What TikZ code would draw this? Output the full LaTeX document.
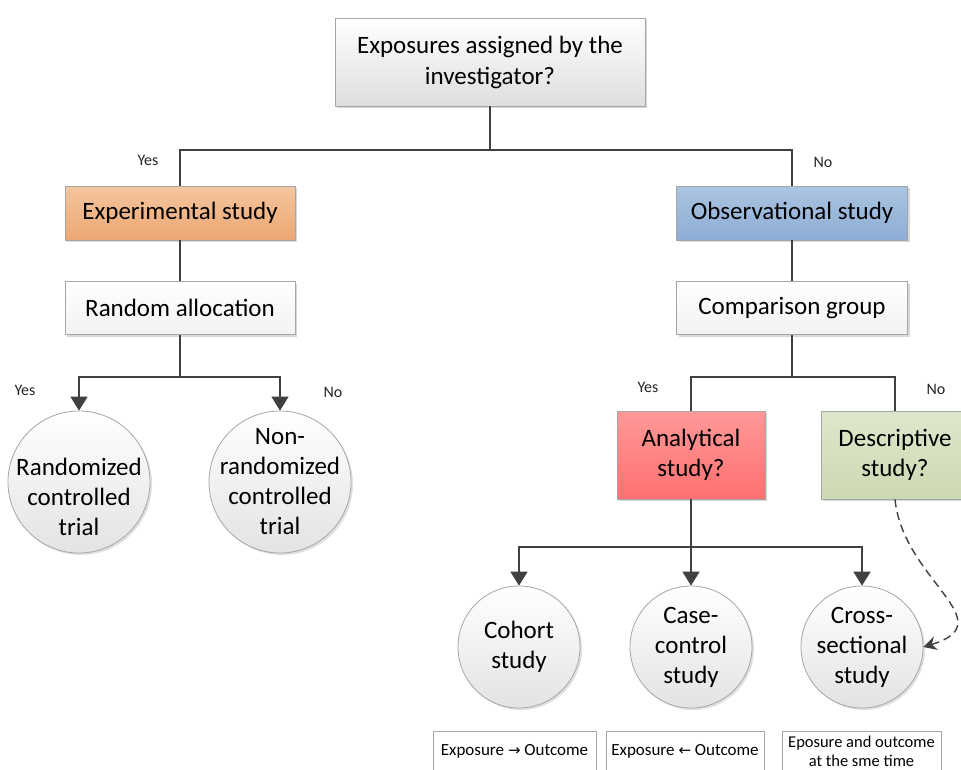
\documentclass[tikz,border=0pt]{standalone}
\usepackage{fontspec}
\setmainfont{Carlito}
\newfontfamily\symfont{DejaVu Sans}
\usetikzlibrary{arrows.meta,shadows}
\definecolor{linec}{HTML}{404040}
\definecolor{borderc}{HTML}{A6A6A6}
\tikzset{
  boxbase/.style={draw=borderc, line width=0.8pt, align=center, inner sep=2pt,
    drop shadow={shadow xshift=2pt, shadow yshift=-2pt, opacity=0.25, fill=black!60}},
  graybox/.style={boxbase, top color=white, bottom color=black!13},
  whitebox/.style={boxbase, top color=white, bottom color=black!5},
  expbox/.style={boxbase, top color={rgb,255:red,245;green,198;blue,158}, bottom color={rgb,255:red,236;green,166;blue,114}},
  obsbox/.style={boxbase, top color={rgb,255:red,170;green,196;blue,224}, bottom color={rgb,255:red,142;green,173;blue,214}},
  anabox/.style={boxbase, top color={rgb,255:red,255;green,152;blue,152}, bottom color={rgb,255:red,255;green,112;blue,112}},
  descbox/.style={boxbase, top color={rgb,255:red,222;green,231;blue,204}, bottom color={rgb,255:red,204;green,217;blue,178}},
  circ/.style={circle, draw=borderc, line width=0.8pt, align=center, inner sep=0pt,
    top color=white, bottom color=black!11, font=\fontsize{25}{30}\selectfont,
    drop shadow={shadow xshift=2pt, shadow yshift=-2pt, opacity=0.2, fill=black!60}},
  bigcirc/.style={circ, inner sep=-15pt, minimum size=142pt},
  smallcirc/.style={circ, inner sep=-6pt, minimum size=122pt},
  smallbox/.style={draw=borderc, line width=0.8pt, fill=white, align=center, inner sep=2pt},
  conn/.style={draw=linec, line width=1.6pt},
  arr/.style={conn, -{Triangle[width=17pt,length=14pt]}},
  dashconn/.style={draw=linec, line width=1.4pt, dash pattern=on 8pt off 5pt,
    -{Stealth[width=14pt,length=13pt]}},
  lab/.style={font=\fontsize{16}{18}\selectfont, text=black!85},
  boxfont/.style={font=\fontsize{25}{31}\selectfont}
}
\begin{document}
\begin{tikzpicture}[x=1pt,y=-1pt]
\useasboundingbox (0,0) rectangle (961,769);
\clip (0,0) rectangle (961,769);
\fill[white] (0,0) rectangle (961,769);

% nodes
\node[graybox, boxfont, minimum width=310pt, minimum height=88pt] (top) at (490,62) {Exposures assigned by the\\investigator?};
\node[expbox, boxfont, minimum width=230pt, minimum height=54pt] (exp) at (180,213) {Experimental study};
\node[whitebox, boxfont, minimum width=230pt, minimum height=53pt] (rand) at (180,308) {Random allocation};
\node[obsbox, boxfont, minimum width=231pt, minimum height=54pt] (obs) at (792,213) {Observational study};
\node[whitebox, boxfont, minimum width=231pt, minimum height=53pt] (comp) at (792,308) {Comparison group};

\node[bigcirc] (rct) at (79,482) {\rule{0pt}{18pt}\\Randomized\\controlled\\trial};
\node[bigcirc] (nrct) at (280,482) {Non-\\randomized\\controlled\\trial};

\node[anabox, minimum width=148pt, minimum height=88pt, font=\fontsize{25}{30}\selectfont] (ana) at (691,455) {Analytical\\study?};
\node[descbox, minimum width=148pt, minimum height=88pt, font=\fontsize{25}{30}\selectfont] (desc) at (895,455) {Descriptive\\study?};

\node[smallcirc] (coh) at (519,647) {Cohort\\study};
\node[smallcirc] (case) at (691,647) {Case-\\control\\study};
\node[smallcirc] (cross) at (862,647) {Cross-\\sectional\\study};

\node[smallbox, minimum width=163pt, minimum height=50pt, anchor=north] (b1) at (514.5,731) {};
\node[smallbox, minimum width=158pt, minimum height=50pt, anchor=north] (b2) at (685,731) {};
\node[smallbox, minimum width=159pt, minimum height=50pt, anchor=north] (b3) at (861.5,731) {};
\node[font=\fontsize{17}{19}\selectfont] (t1) at (514.5,751) {Exposure {\symfont\fontsize{15}{19}\selectfont →} Outcome};
\node[font=\fontsize{17}{19}\selectfont] (t2) at (685,751) {Exposure {\symfont\fontsize{15}{19}\selectfont ←} Outcome};
\node[font=\fontsize{16.5}{19}\selectfont, align=center] (t3) at (861.5,751) {Eposure and outcome\\at the sme time};

% labels
\node[lab] (y1) at (148,160) {Yes};
\node[lab] (n1) at (823,162) {No};
\node[lab] (y2) at (25,390) {Yes};
\node[lab] (n2) at (333,392) {No};
\node[lab] (y3) at (648,387) {Yes};
\node[lab] (n3) at (936,389) {No};

% connectors
\coordinate (j1) at (490,150);
\draw[conn] (top.south) -- (j1);
\draw[conn] (j1) -| (exp.north);
\draw[conn] (j1) -| (obs.north);
\draw[conn] (exp.south) -- (rand.north);
\draw[conn] (obs.south) -- (comp.north);

\coordinate (j2) at (180,377);
\draw[conn] (rand.south) -- (j2);
\draw[arr] (j2) -| (rct.north);
\draw[arr] (j2) -| (nrct.north);

\coordinate (j3) at (792,377);
\draw[conn] (comp.south) -- (j3);
\draw[conn] (j3) -| (ana.north);
\draw[conn] (j3) -| (desc.north);

\coordinate (j4) at (691,547);
\draw[conn] (ana.south) -- (j4);
\draw[arr] (j4) -| (coh.north);
\draw[arr] (j4) -- (case.north);
\draw[arr] (j4) -| (cross.north);

\draw[dashconn] (desc.south) .. controls (903,580) and (1005,622) .. (cross.east);
\end{tikzpicture}
\end{document}
